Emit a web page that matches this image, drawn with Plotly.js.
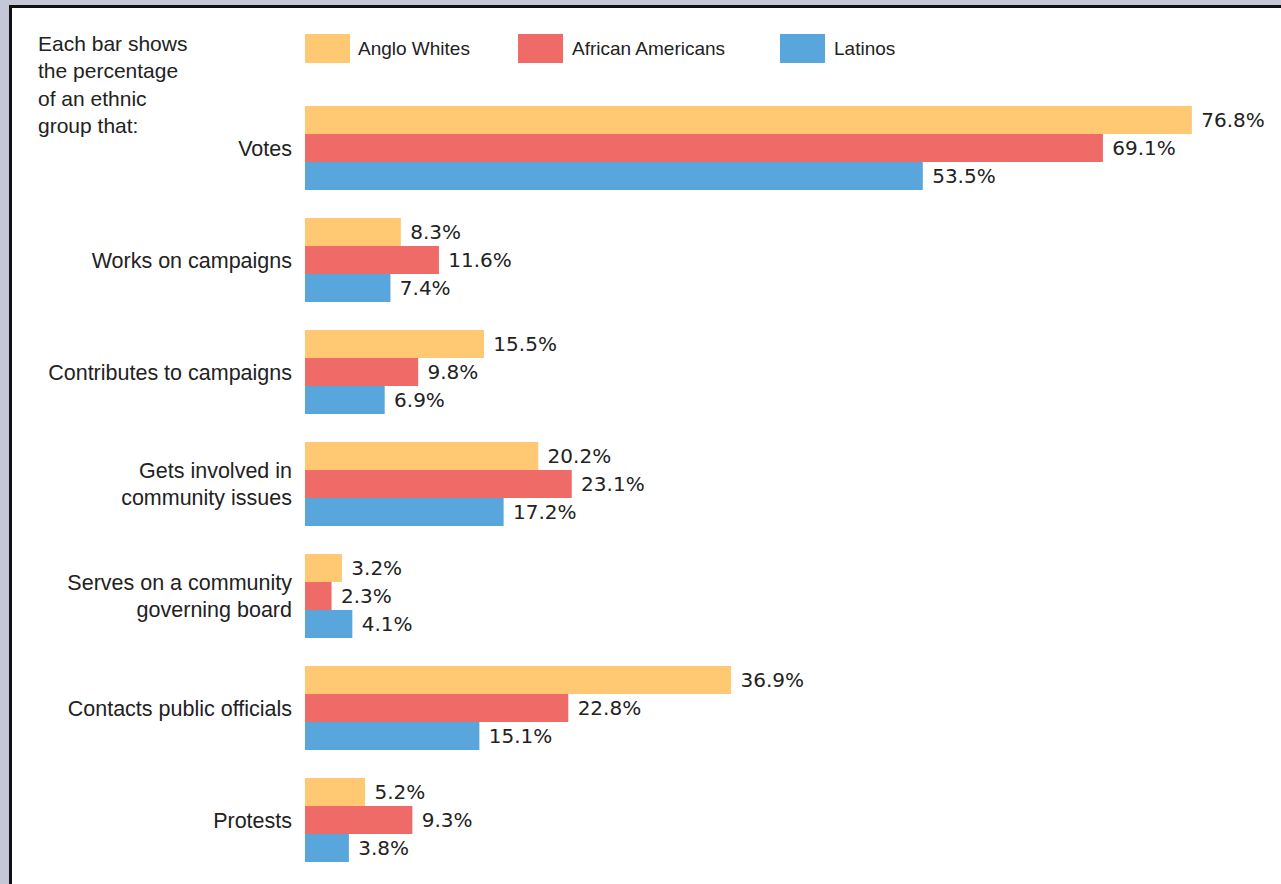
<!DOCTYPE html>
<html>
<head>
<meta charset="utf-8">
<script src="https://cdn.plot.ly/plotly-3.0.1.min.js"></script>
<style>
  html, body { margin: 0; padding: 0; background: #c4c7d6; width: 1281px; height: 884px; overflow: hidden; }
  #wrap { position: absolute; left: 9px; top: 5px; width: 1272px; height: 879px; background: #ffffff;
          border-top: 3px solid #111; border-left: 3px solid #111; box-sizing: border-box; }
  #chart { position: absolute; left: 0; top: 0; width: 1269px; height: 876px; }
</style>
</head>
<body>
<div id="wrap"><div id="chart"></div></div>
<script>
const categories = [
  "Votes",
  "Works on campaigns",
  "Contributes to campaigns",
  "Gets involved in<br>community issues",
  "Serves on a community<br>governing board",
  "Contacts public officials",
  "Protests"
];
const seriesNames = ["Anglo Whites", "African Americans", "Latinos"];
const angloWhites = [76.8, 8.3, 15.5, 20.2, 3.2, 36.9, 5.2];
const africanAmericans = [69.1, 11.6, 9.8, 23.1, 2.3, 22.8, 9.3];
const latinos = [53.5, 7.4, 6.9, 17.2, 4.1, 15.1, 3.8];
const colors = ["#fec972", "#ef6b67", "#58a6dc"];
const introText = "Each bar shows<br>the percentage<br>of an ethnic<br>group that:";

const seriesValues = [angloWhites, africanAmericans, latinos];
const traces = seriesValues.map((vals, i) => ({
  type: "bar",
  orientation: "h",
  name: seriesNames[i],
  x: vals,
  y: categories,
  marker: { color: colors[i], line: { width: 0 } },
  text: vals.map(v => "\u00a0" + v.toFixed(1) + "%"),
  textposition: "outside",
  textfont: { family: "DejaVu Sans", size: 20, color: "#222" },
  cliponaxis: false,
  hoverinfo: "x+name"
}));

// legend swatches & labels (paper coords)
const legendPos = [
  { x0: 0.0, x1: 0.0464, tx: 0.0526 },
  { x0: 0.2196, x1: 0.2660, tx: 0.2733 },
  { x0: 0.4897, x1: 0.5361, tx: 0.5434 }
];
const shapes = legendPos.map((p, i) => ({
  type: "rect", xref: "paper", yref: "paper",
  x0: p.x0, x1: p.x1, y0: 1.037, y1: 1.074,
  fillcolor: colors[i], line: { width: 0 }
}));
const annotations = legendPos.map((p, i) => ({
  xref: "paper", yref: "paper", x: p.tx, y: 1.0555,
  xanchor: "left", yanchor: "middle", showarrow: false,
  text: seriesNames[i],
  font: { family: "Liberation Sans", size: 19, color: "#222" }
}));
annotations.push({
  xref: "paper", yref: "paper", x: -0.2773, y: 1.079,
  xanchor: "left", yanchor: "top", align: "left", showarrow: false,
  text: introText,
  font: { family: "Liberation Sans", size: 21, color: "#222" }
});

const layout = {
  width: 1269, height: 876,
  margin: { l: 293, r: 6, t: 84, b: 8 },
  paper_bgcolor: "#ffffff",
  plot_bgcolor: "#ffffff",
  barmode: "group",
  bargap: 0.25,
  bargroupgap: 0,
  showlegend: false,
  xaxis: { range: [0, 84], visible: false, showgrid: false, zeroline: false },
  yaxis: {
    type: "category",
    categoryorder: "array",
    categoryarray: categories,
    range: [6.5, -0.5],
    showgrid: false, zeroline: false, showline: false,
    ticks: "", ticklabelstandoff: 12,
    tickfont: { family: "Liberation Sans", size: 21.5, color: "#222" }
  },
  shapes: shapes,
  annotations: annotations,
  font: { family: "Liberation Sans" }
};

Plotly.newPlot("chart", traces, layout, { displayModeBar: false, staticPlot: true });
</script>
</body>
</html>
